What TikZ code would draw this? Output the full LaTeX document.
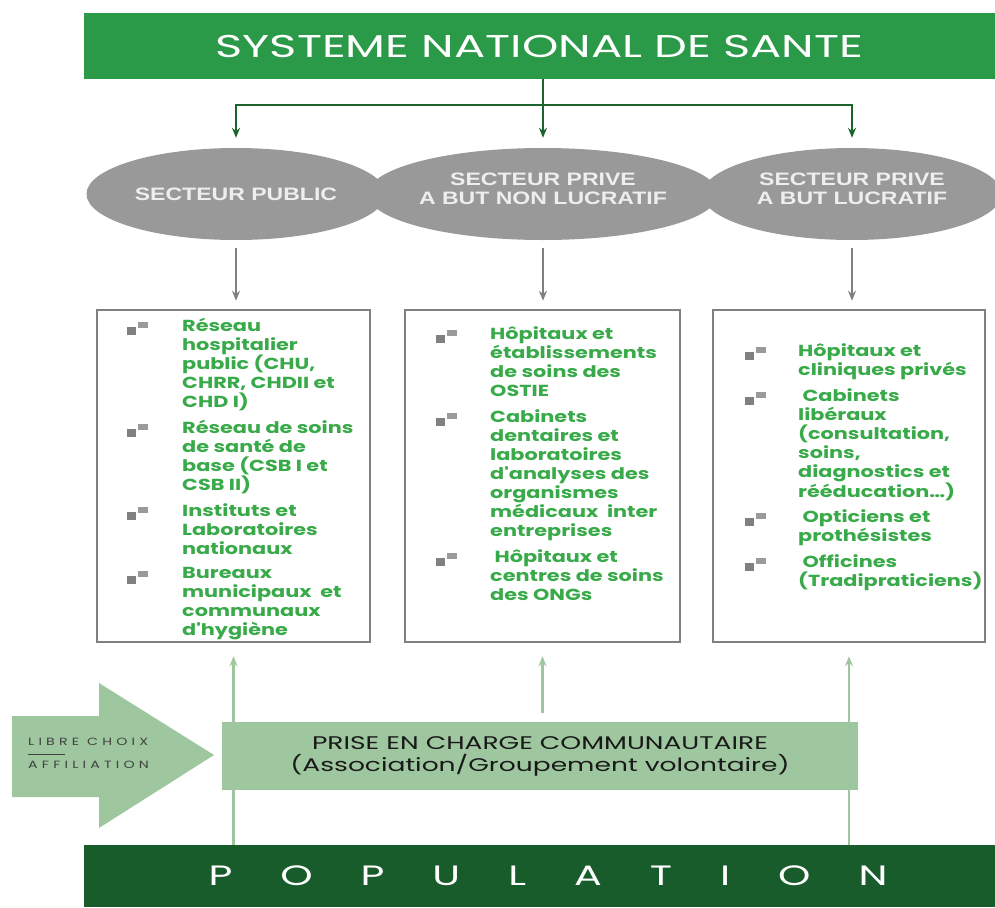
\documentclass[tikz,border=0pt]{standalone}
\usepackage{fontspec}
\setmainfont{Poppins}
\newfontfamily\titrefont[FakeStretch=1.47]{Poppins}
\newfontfamily\prisefont[FakeStretch=1.45]{Poppins}
\newfontfamily\secteurfont[FakeStretch=1.28]{Liberation Sans}
\newfontfamily\itemfont[FakeStretch=1.3]{Poppins}
\newfontfamily\petitfont[FakeStretch=1.35, LetterSpace=40]{Poppins}
\usetikzlibrary{arrows, arrows.meta}
\usetikzlibrary{calc}
\usetikzlibrary{shapes.geometric}

\definecolor{vertsante}{RGB}{42,154,72}
\definecolor{vertfonce}{RGB}{24,92,44}
\definecolor{vertligne}{RGB}{28,100,45}
\definecolor{vertclair}{RGB}{158,199,159}
\definecolor{vertitem}{RGB}{57,170,73}
\definecolor{grisellipse}{RGB}{153,153,153}
\definecolor{grisbord}{RGB}{128,128,128}
\definecolor{texteclair}{RGB}{238,238,238}

% deux lignes remontees dans l'ellipse
\newcommand{\deuxlignes}[2]{\raisebox{3pt}[\height][\depth]{\begin{tabular}{@{}c@{}}#1\\[-1pt]#2\end{tabular}}}

\begin{document}
\begin{tikzpicture}[x=1pt, y=-1pt,
  bandeau/.style={rectangle, inner sep=0pt, minimum width=911, text=white},
  secteur/.style={ellipse, fill=grisellipse, minimum width=299, minimum height=92, inner sep=0pt,
    align=center, text=texteclair, font=\secteurfont\bfseries\fontsize{18}{20}\selectfont},
  cadre/.style={rectangle, draw=grisbord, line width=2.5pt, minimum height=332, inner sep=0pt},
  element/.style={anchor=north west, inner sep=0pt, align=left, text=vertitem,
    font=\itemfont\bfseries\fontsize{16}{19}\selectfont},
  lien/.style={vertligne, line width=2.5pt},
  lienfleche/.style={lien, -{Stealth[length=10pt, width=8pt]}, shorten >=10pt},
  flechegrise/.style={grisbord, line width=2.5pt, -{Stealth[length=10pt, width=8pt]}, shorten <=8pt, shorten >=8pt},
  flecheclaire/.style={vertclair, line width=2.5pt, -{Stealth[length=10pt, width=8pt]}, shorten >=13pt},
  puce/.pic={
    \fill[grisbord] (0,5) rectangle (9,13);
    \fill[grisbord!80] (11,0) rectangle (21,6);
  }]
\useasboundingbox (0,0) rectangle (995,907);

% haut
\node[bandeau, fill=vertsante, minimum height=66, font=\titrefont\fontsize{31.5}{33}\selectfont] (sns) at (539.5,46) {SYSTEME NATIONAL DE SANTE};

\node[secteur] (public) at (236,194) {SECTEUR PUBLIC};
\node[secteur] (nonlucratif) at (543,194) {\deuxlignes{SECTEUR PRIVE}{A BUT NON LUCRATIF}};
\node[secteur] (lucratif) at (852,194) {\deuxlignes{SECTEUR PRIVE}{A BUT LUCRATIF}};

\coordinate (embranchement) at (543,105);
\draw[lien] (sns.south -| nonlucratif) -- (embranchement);
\draw[lienfleche] (embranchement) -| (public);
\draw[lienfleche] (embranchement) -- (nonlucratif);
\draw[lienfleche] (embranchement) -| (lucratif);

% cadres
\node[cadre, minimum width=273] (etabpublic) at (233.5,476) {};
\node[cadre, minimum width=275] (etabnonlucratif) at (542.5,476) {};
\node[cadre, minimum width=272] (etablucratif) at (849,476) {};

\draw[flechegrise] (public.south) -- (public.south |- etabpublic.north);
\draw[flechegrise] (nonlucratif.south) -- (nonlucratif.south |- etabnonlucratif.north);
\draw[flechegrise] (lucratif.south) -- (lucratif.south |- etablucratif.north);

% secteur public
\pic at (127,322) {puce};
\node[element] (pub1) at (182,318) {Réseau\\hospitalier\\public (CHU,\\CHRR, CHDII et\\CHD I)};
\pic at (127,424) {puce};
\node[element] (pub2) at (182,420) {Réseau de soins\\de santé de\\base (CSB I et\\CSB II)};
\pic at (127,507) {puce};
\node[element] (pub3) at (182,503) {Instituts et\\Laboratoires\\nationaux};
\pic at (127,571) {puce};
\node[element] (pub4) at (182,567) {Bureaux\\municipaux\ \ et\\communaux\\d'hygiène};

% prive non lucratif
\pic at (436,330) {puce};
\node[element] (nl1) at (490,326) {Hôpitaux et\\établissements\\de soins des\\OSTIE};
\pic at (436,413) {puce};
\node[element] (nl2) at (490,409) {Cabinets\\dentaires et\\laboratoires\\d'analyses des\\organismes\\médicaux\ \ inter\\entreprises};
\pic at (436,553) {puce};
\node[element] (nl3) at (490,549) {\ Hôpitaux et\\centres de soins\\des ONGs};

% prive lucratif
\pic at (745,347) {puce};
\node[element] (l1) at (798,343) {Hôpitaux et\\cliniques privés};
\pic at (745,392) {puce};
\node[element] (l2) at (798,388) {\ Cabinets\\libéraux\\(consultation,\\soins,\\diagnostics et\\rééducation…)};
\pic at (745,513) {puce};
\node[element] (l3) at (798,509) {\ Opticiens et\\prothésistes};
\pic at (745,558) {puce};
\node[element] (l4) at (798,554) {\ Officines\\(Tradipraticiens)};

% bas
\node[bandeau, fill=vertfonce, minimum height=62, font=\titrefont\fontsize{28}{32}\selectfont] (population) at (539.5,876) {\hspace*{17pt}{\spaceskip=48pt P O P U L A T I O N}};

\draw[flecheclaire] (population.north -| etabpublic.south) -- (etabpublic.south);
\draw[flecheclaire] (population.north -| etablucratif.south) -- (etablucratif.south);

\node[rectangle, fill=vertclair, minimum width=636, minimum height=68, inner sep=0pt, align=center,
  text=black!90, font=\prisefont\fontsize{18.3}{22}\selectfont] (prise) at (540,756)
  {PRISE EN CHARGE COMMUNAUTAIRE\\(Association/Groupement volontaire)};
\draw[flecheclaire, shorten <=9pt] (prise.north -| etabnonlucratif.south) -- (etabnonlucratif.south);

\fill[vertclair] (12,716) -- (99,716) -- (99,683) -- (214,755) -- (99,828) -- (99,797) -- (12,797) -- cycle;
\node[anchor=west, inner sep=0pt, align=left, text=black!75,
  font=\petitfont\fontsize{10.5}{12}\selectfont] (choix) at (28,753)
  {LIBRE CHOIX\\[-2pt]\rule{37pt}{0.7pt}\\[1pt]AFFILIATION};
\end{tikzpicture}
\end{document}
